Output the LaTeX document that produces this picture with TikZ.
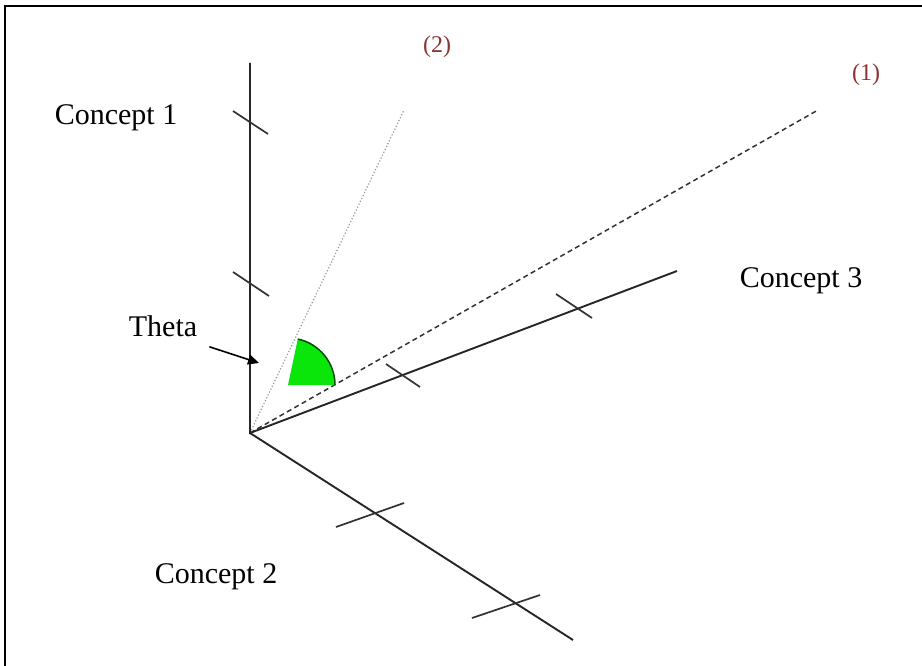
\documentclass[tikz,border=0pt]{standalone}
\usepackage{fontspec}
\setmainfont{Liberation Serif}
\usetikzlibrary{arrows.meta}
\definecolor{labred}{RGB}{140,50,50}
\definecolor{sectorgreen}{RGB}{10,230,10}
\tikzset{
  axis/.style={line width=1.9pt, black!85},
  tick/.style={line width=1.7pt, black!80},
  concept/.style={font=\fontsize{30}{32}\selectfont, inner sep=0pt},
  numlabel/.style={font=\fontsize{24}{26}\selectfont, text=labred, inner sep=0pt},
}
\begin{document}
\begin{tikzpicture}[x=1pt,y=-1pt]
\useasboundingbox (0,0) rectangle (922,666);
\fill[white] (0,0) rectangle (922,666);
% frame
\draw[line width=2.2pt] (5,680) -- (5,6) -- (930,6);
% coordinates
\coordinate (O) at (250,433);
\coordinate (a1) at (250,63);
\coordinate (a2) at (573,640);
\coordinate (a3) at (677,271);
\coordinate (v1) at (818,110);
\coordinate (v2) at (404,110);
\coordinate (C) at (288,385);
% vectors
\draw[gray!80, line width=1.2pt, dotted] (O) -- (v2);
\draw[black!80, line width=1.5pt, dash pattern=on 5pt off 3.5pt] (O) -- (v1);
% sector
\fill[sectorgreen] (C) -- ++(47,0) arc[start angle=0, end angle=-78, radius=47] -- cycle;
\draw[black!70!green, line width=1.5pt] (C) ++(47,0) arc[start angle=0, end angle=-78, radius=47];
% axes
\draw[axis] (a1) -- (O) -- (a3);
\draw[axis] (O) -- (a2);
% ticks
\coordinate (t1a) at (233,111); \coordinate (t1b) at (268,134);
\coordinate (t2a) at (233,272); \coordinate (t2b) at (269,296);
\coordinate (t3a) at (386,364); \coordinate (t3b) at (420,387);
\coordinate (t4a) at (556,294); \coordinate (t4b) at (592,318);
\coordinate (t5a) at (336,527); \coordinate (t5b) at (404,503);
\coordinate (t6a) at (472,618); \coordinate (t6b) at (540,595);
\draw[tick] (t1a) -- (t1b);
\draw[tick] (t2a) -- (t2b);
\draw[tick] (t3a) -- (t3b);
\draw[tick] (t4a) -- (t4b);
\draw[tick] (t5a) -- (t5b);
\draw[tick] (t6a) -- (t6b);
% labels
\node[concept] (c1) at (116,118) {Concept 1};
\node[concept] (c3) at (801,281) {Concept 3};
\node[concept] (c2) at (216,577) {Concept 2};
\node[concept] (th) at (163,326) {Theta};
\node[numlabel] (n2) at (437,47) {(2)};
\node[numlabel] (n1) at (866,75) {(1)};
% theta arrow
\coordinate (thtip) at (259,363);
\draw[line width=1.6pt, -{Triangle[length=11pt,width=10pt]}] (th.south east) ++(12,10) coordinate (thstart) -- (thtip);
\end{tikzpicture}
\end{document}
